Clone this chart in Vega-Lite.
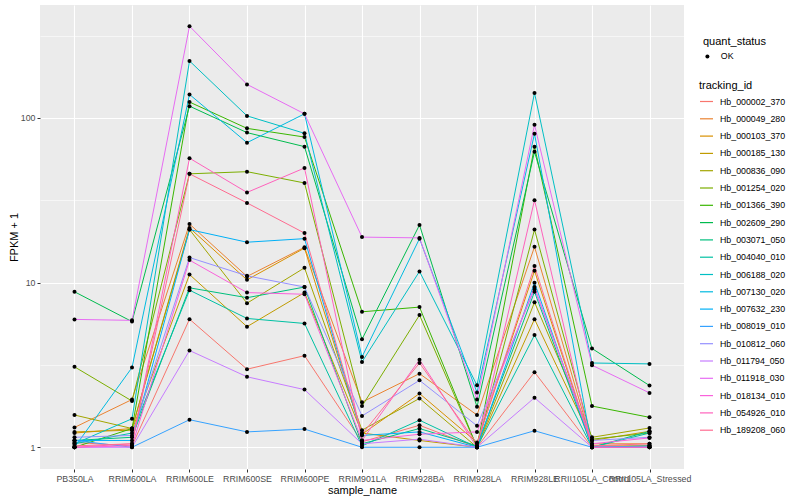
{
  "$schema": "https://vega.github.io/schema/vega-lite/v6.json",
  "width": 644,
  "height": 464,
  "autosize": {"type": "none"},
  "padding": {"left": 40, "top": 5, "right": 116, "bottom": 31},
  "background": "white",
  "data": {
    "values": [
      {"tracking_id": "Hb_000002_370", "quant_status": "OK", "PB350LA": 1.07, "RRIM600LA": 1.02, "RRIM600LE": 6.0, "RRIM600SE": 2.98, "RRIM600PE": 3.6, "RRIM901LA": 1.08, "RRIM928BA": 1.36, "RRIM928LA": 1.0, "RRIM928LE": 2.86, "RRII105LA_Control": 1.0, "RRII105LA_Stressed": 1.02},
      {"tracking_id": "Hb_000049_280", "quant_status": "OK", "PB350LA": 1.32, "RRIM600LA": 1.95, "RRIM600LE": 22.7, "RRIM600SE": 10.9, "RRIM600PE": 16.4, "RRIM901LA": 1.88, "RRIM928BA": 2.8, "RRIM928LA": 1.57, "RRIM928LE": 16.5, "RRII105LA_Control": 1.05, "RRII105LA_Stressed": 1.05},
      {"tracking_id": "Hb_000103_370", "quant_status": "OK", "PB350LA": 1.22, "RRIM600LA": 1.3, "RRIM600LE": 21.5, "RRIM600SE": 10.4, "RRIM600PE": 16.2, "RRIM901LA": 1.2, "RRIM928BA": 2.12, "RRIM928LA": 1.07, "RRIM928LE": 11.8, "RRII105LA_Control": 1.02, "RRII105LA_Stressed": 1.02},
      {"tracking_id": "Hb_000185_130", "quant_status": "OK", "PB350LA": 1.24, "RRIM600LA": 1.27, "RRIM600LE": 11.2, "RRIM600SE": 5.4, "RRIM600PE": 8.7, "RRIM901LA": 1.22, "RRIM928BA": 1.1, "RRIM928LA": 1.0, "RRIM928LE": 6.0, "RRII105LA_Control": 1.1, "RRII105LA_Stressed": 1.25},
      {"tracking_id": "Hb_000836_090", "quant_status": "OK", "PB350LA": 1.57, "RRIM600LA": 1.3, "RRIM600LE": 21.0, "RRIM600SE": 7.5, "RRIM600PE": 12.3, "RRIM901LA": 1.27, "RRIM928BA": 1.98, "RRIM928LA": 1.0, "RRIM928LE": 7.6, "RRII105LA_Control": 1.15, "RRII105LA_Stressed": 1.31},
      {"tracking_id": "Hb_001254_020", "quant_status": "OK", "PB350LA": 3.08, "RRIM600LA": 1.91, "RRIM600LE": 45.8, "RRIM600SE": 47.2, "RRIM600PE": 40.3, "RRIM901LA": 1.78, "RRIM928BA": 6.35, "RRIM928LA": 1.0, "RRIM928LE": 21.0, "RRII105LA_Control": 1.12, "RRII105LA_Stressed": 1.22},
      {"tracking_id": "Hb_001366_390", "quant_status": "OK", "PB350LA": 1.0, "RRIM600LA": 1.3, "RRIM600LE": 125, "RRIM600SE": 86.5, "RRIM600PE": 76.6, "RRIM901LA": 6.65, "RRIM928BA": 7.1, "RRIM928LA": 1.0, "RRIM928LE": 67, "RRII105LA_Control": 1.78, "RRII105LA_Stressed": 1.52},
      {"tracking_id": "Hb_002609_290", "quant_status": "OK", "PB350LA": 8.8, "RRIM600LA": 5.8, "RRIM600LE": 118, "RRIM600SE": 81.5, "RRIM600PE": 67, "RRIM901LA": 4.53, "RRIM928BA": 22.4, "RRIM928LA": 1.76, "RRIM928LE": 62.4, "RRII105LA_Control": 3.98, "RRII105LA_Stressed": 2.37},
      {"tracking_id": "Hb_003071_050", "quant_status": "OK", "PB350LA": 1.1, "RRIM600LA": 1.15, "RRIM600LE": 9.3, "RRIM600SE": 8.1, "RRIM600PE": 9.4, "RRIM901LA": 1.05, "RRIM928BA": 1.3, "RRIM928LA": 1.02, "RRIM928LE": 8.8, "RRII105LA_Control": 1.0, "RRII105LA_Stressed": 1.25},
      {"tracking_id": "Hb_004040_010", "quant_status": "OK", "PB350LA": 1.05, "RRIM600LA": 1.22, "RRIM600LE": 9.0, "RRIM600SE": 6.06, "RRIM600PE": 5.65, "RRIM901LA": 1.02, "RRIM928BA": 1.46, "RRIM928LA": 1.0, "RRIM928LE": 4.8, "RRII105LA_Control": 1.0, "RRII105LA_Stressed": 1.22},
      {"tracking_id": "Hb_006188_020", "quant_status": "OK", "PB350LA": 1.05, "RRIM600LA": 1.49, "RRIM600LE": 222, "RRIM600SE": 103, "RRIM600PE": 80.7, "RRIM901LA": 3.3, "RRIM928BA": 11.7, "RRIM928LA": 2.38, "RRIM928LE": 142, "RRII105LA_Control": 3.25, "RRII105LA_Stressed": 3.21},
      {"tracking_id": "Hb_007130_020", "quant_status": "OK", "PB350LA": 1.0, "RRIM600LA": 3.05, "RRIM600LE": 139, "RRIM600SE": 70.8, "RRIM600PE": 106, "RRIM901LA": 3.54, "RRIM928BA": 18.5, "RRIM928LA": 2.15, "RRIM928LE": 80.3, "RRII105LA_Control": 1.0, "RRII105LA_Stressed": 1.02},
      {"tracking_id": "Hb_007632_230", "quant_status": "OK", "PB350LA": 1.1, "RRIM600LA": 1.1, "RRIM600LE": 21.0, "RRIM600SE": 17.6, "RRIM600PE": 18.5, "RRIM901LA": 1.18, "RRIM928BA": 1.24, "RRIM928LA": 1.0, "RRIM928LE": 10.0, "RRII105LA_Control": 1.0, "RRII105LA_Stressed": 1.0},
      {"tracking_id": "Hb_008019_010", "quant_status": "OK", "PB350LA": 1.1, "RRIM600LA": 1.0, "RRIM600LE": 1.47, "RRIM600SE": 1.24, "RRIM600PE": 1.29, "RRIM901LA": 1.0, "RRIM928BA": 1.0, "RRIM928LA": 1.0, "RRIM928LE": 1.26, "RRII105LA_Control": 1.0, "RRII105LA_Stressed": 1.0},
      {"tracking_id": "Hb_010812_060", "quant_status": "OK", "PB350LA": 1.15, "RRIM600LA": 1.18, "RRIM600LE": 14.2, "RRIM600SE": 11.0, "RRIM600PE": 9.4, "RRIM901LA": 1.55, "RRIM928BA": 2.55, "RRIM928LA": 1.35, "RRIM928LE": 9.1, "RRII105LA_Control": 1.1, "RRII105LA_Stressed": 1.15},
      {"tracking_id": "Hb_011794_050", "quant_status": "OK", "PB350LA": 1.0, "RRIM600LA": 1.0, "RRIM600LE": 3.87, "RRIM600SE": 2.68, "RRIM600PE": 2.24, "RRIM901LA": 1.05, "RRIM928BA": 1.12, "RRIM928LA": 1.0, "RRIM928LE": 2.0, "RRII105LA_Control": 1.0, "RRII105LA_Stressed": 1.0},
      {"tracking_id": "Hb_011918_030", "quant_status": "OK", "PB350LA": 5.98, "RRIM600LA": 5.9, "RRIM600LE": 361, "RRIM600SE": 160, "RRIM600PE": 106, "RRIM901LA": 18.9, "RRIM928BA": 18.7, "RRIM928LA": 1.95, "RRIM928LE": 91, "RRII105LA_Control": 3.15, "RRII105LA_Stressed": 2.14},
      {"tracking_id": "Hb_018134_010", "quant_status": "OK", "PB350LA": 1.0, "RRIM600LA": 1.02, "RRIM600LE": 13.7, "RRIM600SE": 8.7, "RRIM600PE": 8.5, "RRIM901LA": 1.1, "RRIM928BA": 1.2, "RRIM928LA": 1.24, "RRIM928LE": 9.4, "RRII105LA_Control": 1.05, "RRII105LA_Stressed": 1.14},
      {"tracking_id": "Hb_054926_010", "quant_status": "OK", "PB350LA": 1.0, "RRIM600LA": 1.05, "RRIM600LE": 57, "RRIM600SE": 35.3, "RRIM600PE": 49.7, "RRIM901LA": 1.1, "RRIM928BA": 3.4, "RRIM928LA": 1.0, "RRIM928LE": 31.7, "RRII105LA_Control": 1.0, "RRII105LA_Stressed": 1.0},
      {"tracking_id": "Hb_189208_060", "quant_status": "OK", "PB350LA": 1.02, "RRIM600LA": 1.05, "RRIM600LE": 45.8, "RRIM600SE": 30.5, "RRIM600PE": 20.0, "RRIM901LA": 1.2, "RRIM928BA": 3.25, "RRIM928LA": 1.05, "RRIM928LE": 12.6, "RRII105LA_Control": 1.02, "RRII105LA_Stressed": 1.05}
    ]
  },
  "transform": [
    {"fold": ["PB350LA", "RRIM600LA", "RRIM600LE", "RRIM600SE", "RRIM600PE", "RRIM901LA", "RRIM928BA", "RRIM928LA", "RRIM928LE", "RRII105LA_Control", "RRII105LA_Stressed"], "as": ["sample_name", "fpkm"]}
  ],
  "encoding": {
    "x": {
      "field": "sample_name", "type": "nominal",
      "scale": {"type": "point", "padding": 0.6, "domain": ["PB350LA", "RRIM600LA", "RRIM600LE", "RRIM600SE", "RRIM600PE", "RRIM901LA", "RRIM928BA", "RRIM928LA", "RRIM928LE", "RRII105LA_Control", "RRII105LA_Stressed"]},
      "axis": {"title": "sample_name", "labelAngle": 0, "labelOverlap": false, "labelBound": false, "labelFlush": false, "titlePadding": 2, "grid": true, "gridWidth": 1.1}
    },
    "y": {
      "field": "fpkm", "type": "quantitative",
      "scale": {"type": "log", "domain": [0.738, 485.6], "nice": false, "zero": false},
      "axis": {
        "title": "FPKM + 1",
        "values": [1, 3.1623, 10, 31.623, 100, 316.23],
        "labelExpr": "datum.value == 1 ? '1' : datum.value == 10 ? '10' : datum.value == 100 ? '100' : ''",
        "gridWidth": {"condition": {"test": "datum.value == 1 || datum.value == 10 || datum.value == 100", "value": 1.1}, "value": 0.55},
        "tickOpacity": {"condition": {"test": "datum.value == 1 || datum.value == 10 || datum.value == 100", "value": 1}, "value": 0},
        "titlePadding": 1
      }
    }
  },
  "layer": [
    {
      "mark": {"type": "line", "strokeWidth": 1},
      "encoding": {
        "color": {
          "field": "tracking_id", "type": "nominal",
          "scale": {
            "domain": ["Hb_000002_370", "Hb_000049_280", "Hb_000103_370", "Hb_000185_130", "Hb_000836_090", "Hb_001254_020", "Hb_001366_390", "Hb_002609_290", "Hb_003071_050", "Hb_004040_010", "Hb_006188_020", "Hb_007130_020", "Hb_007632_230", "Hb_008019_010", "Hb_010812_060", "Hb_011794_050", "Hb_011918_030", "Hb_018134_010", "Hb_054926_010", "Hb_189208_060"],
            "range": ["#F8766D", "#EA8331", "#D89000", "#C09B00", "#A3A500", "#7CAE00", "#39B600", "#00BB4E", "#00BF7D", "#00C1A3", "#00BFC4", "#00BAE0", "#00B0F6", "#35A2FF", "#9590FF", "#C77CFF", "#E76BF3", "#FA62DB", "#FF62BC", "#FF6C91"]
          },
          "legend": {
            "title": "tracking_id", "orient": "none", "legendX": 659, "legendY": 75,
            "symbolType": "stroke", "symbolSize": 169, "symbolStrokeWidth": 1.2,
            "rowPadding": 4.3, "titlePadding": 3, "labelOffset": 6, "padding": 0
          }
        },
        "order": {"value": null}
      }
    },
    {
      "mark": {"type": "point", "filled": true, "size": 16, "opacity": 1, "color": "black"},
      "encoding": {
        "shape": {
          "field": "quant_status", "type": "nominal",
          "scale": {"domain": ["OK"], "range": ["circle"]},
          "legend": {
            "title": "quant_status", "orient": "none", "legendX": 663, "legendY": 31,
            "symbolFillColor": "black", "symbolStrokeColor": "black", "symbolSize": 16, "symbolOpacity": 1,
            "titlePadding": 5, "labelOffset": 9, "padding": 0
          }
        }
      }
    }
  ],
  "config": {
    "font": "Liberation Sans",
    "view": {"fill": "#EBEBEB", "stroke": null},
    "axis": {
      "domain": false, "gridColor": "white", "gridOpacity": 1,
      "tickColor": "#333333", "tickSize": 3, "tickWidth": 1,
      "labelColor": "#4D4D4D", "labelFontSize": 8.8, "labelPadding": 2,
      "titleFontSize": 11, "titleFontWeight": "normal", "titleColor": "black"
    },
    "legend": {
      "titleFontSize": 11, "titleFontWeight": "normal", "titleColor": "black",
      "labelFontSize": 8.8, "labelColor": "black"
    }
  }
}
